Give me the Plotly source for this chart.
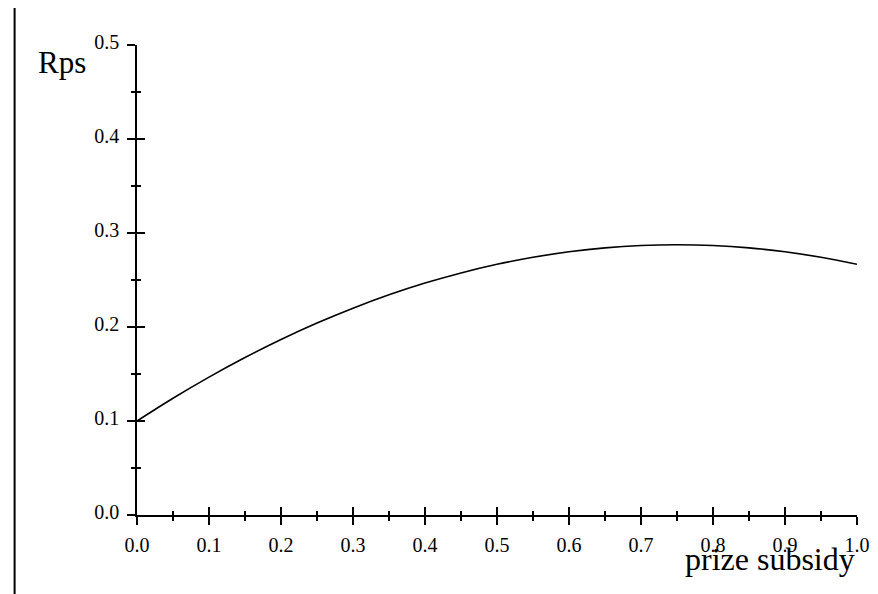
import plotly.graph_objects as go

# Data
prize_subsidy = [0.00, 0.05, 0.10, 0.15, 0.20, 0.25, 0.30, 0.35, 0.40, 0.45, 0.50,
                 0.55, 0.60, 0.65, 0.70, 0.75, 0.80, 0.85, 0.90, 0.95, 1.00]
rps = [0.1000, 0.1242, 0.1467, 0.1675, 0.1867, 0.2042, 0.2200, 0.2342, 0.2467, 0.2575, 0.2667,
       0.2742, 0.2800, 0.2842, 0.2867, 0.2875, 0.2867, 0.2842, 0.2800, 0.2742, 0.2667]

x_ticks = [0.0, 0.1, 0.2, 0.3, 0.4, 0.5, 0.6, 0.7, 0.8, 0.9, 1.0]
y_ticks = [0.0, 0.1, 0.2, 0.3, 0.4, 0.5]
x_tick_labels = ["0.0", "0.1", "0.2", "0.3", "0.4", "0.5", "0.6", "0.7", "0.8", "0.9", "1.0"]
y_tick_labels = ["0.0", "0.1", "0.2", "0.3", "0.4", "0.5"]

FONT = "Liberation Serif, Times New Roman, serif"

fig = go.Figure()
fig.add_trace(go.Scatter(x=prize_subsidy, y=rps, mode="lines",
                         line=dict(color="black", width=1.6, shape="spline"),
                         hoverinfo="skip", showlegend=False))
# helper trace for the overlay axes (inside half of the crossing ticks)
fig.add_trace(go.Scatter(x=prize_subsidy, y=rps, mode="lines", xaxis="x2", yaxis="y2",
                         line=dict(color="rgba(0,0,0,0)", width=0),
                         hoverinfo="skip", showlegend=False))

common_font = dict(family=FONT, size=20, color="black")

fig.update_layout(
    width=878, height=594,
    margin=dict(l=129, r=29, t=37, b=87),
    paper_bgcolor="white", plot_bgcolor="white",
    xaxis=dict(range=[0, 1], tickvals=x_ticks, ticktext=x_tick_labels,
               ticks="outside", ticklen=8, tickwidth=1.5, tickcolor="black",
               minor=dict(ticks="outside", ticklen=4, tickwidth=1.5, tickcolor="black", dtick=0.05),
               showline=True, linecolor="black", linewidth=1.5,
               showgrid=False, zeroline=False, tickfont=common_font,
               ticklabelstandoff=3),
    yaxis=dict(range=[0, 0.5], tickvals=y_ticks, ticktext=y_tick_labels,
               ticks="outside", ticklen=8, tickwidth=1.5, tickcolor="black",
               minor=dict(ticks="outside", ticklen=4, tickwidth=1.5, tickcolor="black", dtick=0.05),
               showline=True, linecolor="black", linewidth=1.5,
               showgrid=False, zeroline=False, tickfont=common_font,
               ticklabelstandoff=4, ticklabelshift=-3),
    xaxis2=dict(range=[0, 1], overlaying="x", tickvals=x_ticks,
                ticks="inside", ticklen=8, tickwidth=1.5, tickcolor="black",
                minor=dict(ticks="inside", ticklen=4, tickwidth=1.5, tickcolor="black", dtick=0.05),
                showticklabels=False, showline=False, showgrid=False, zeroline=False),
    yaxis2=dict(range=[0, 0.5], overlaying="y", tickvals=y_ticks,
                ticks="inside", ticklen=8, tickwidth=1.5, tickcolor="black",
                minor=dict(ticks="inside", ticklen=4, tickwidth=1.5, tickcolor="black", dtick=0.05),
                showticklabels=False, showline=False, showgrid=False, zeroline=False),
    annotations=[
        dict(text="Rps", xref="paper", yref="paper", x=-0.068, y=0.962,
             xanchor="right", yanchor="middle", showarrow=False,
             font=dict(family=FONT, size=31, color="black")),
        dict(text="prize subsidy", xref="paper", yref="paper", x=1.0, y=-0.094,
             xanchor="right", yanchor="middle", showarrow=False,
             font=dict(family=FONT, size=32, color="black")),
    ],
    shapes=[
        dict(type="line", xref="paper", yref="paper", x0=-0.170, x1=-0.170, y0=-0.1817, y1=1.08,
             line=dict(color="black", width=2)),
        dict(type="line", xref="paper", yref="paper", x0=-0.170, x1=1.04, y0=-0.1817, y1=-0.1817,
             line=dict(color="#777777", width=2)),
    ],
)

fig.write_html("out.html")
